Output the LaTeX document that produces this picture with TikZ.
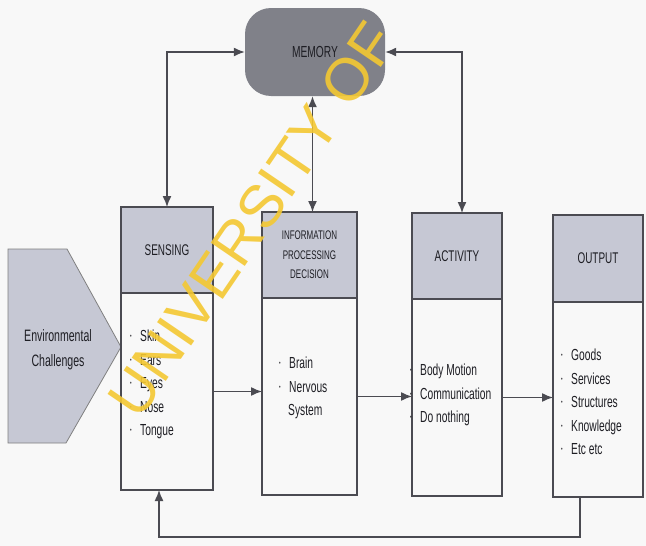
\documentclass[tikz,border=0pt]{standalone}
\usepackage{fontspec}
\setmainfont{Liberation Sans}
\newfontfamily\narrowfont[FakeStretch=0.64]{Liberation Sans}
\usepackage{xcolor}
\usetikzlibrary{arrows.meta, math, positioning}
\definecolor{headgray}{RGB}{198,200,212}
\definecolor{memgray}{RGB}{128,129,137}
\definecolor{linegray}{RGB}{75,75,82}
\definecolor{inkgray}{RGB}{30,30,36}
\definecolor{uyellow}{RGB}{244,200,50}
\definecolor{paper}{RGB}{248,248,248}

\newcommand{\bul}{\makebox[10pt][l]{\raisebox{3pt}{\fontsize{7}{7}\selectfont\textbullet}}}

\tikzset{
head/.style={draw=linegray, line width=1.1pt, fill=headgray, inner sep=0pt, outer sep=0pt,
  align=center, text=inkgray, anchor=north west, font=\narrowfont\fontsize{15.5}{20}\selectfont},
body/.style={draw=linegray, line width=1.1pt, inner sep=0pt, outer sep=0pt, anchor=north},
itemlist/.style={anchor=north west, align=left, inner sep=0pt, text=inkgray,
  font=\narrowfont\fontsize{16}{23.5}\selectfont},
link/.style={draw=linegray, line width=1.4pt, -{Latex[length=11pt,width=9pt]}},
dlink/.style={draw=linegray, line width=1.4pt, {Latex[length=11pt,width=9pt]}-{Latex[length=11pt,width=9pt]}},
}

\begin{document}
\begin{tikzpicture}[x=1pt,y=-1pt]
\tikzmath{
\hh=86;% header height
\bh=197;% body height
}
\useasboundingbox[fill=paper] (0,0) rectangle (646,546);

%memory
\node[fill=memgray, rounded corners=26pt, minimum width=140pt, minimum height=88pt,
  text=inkgray, font=\narrowfont\fontsize{16}{16}\selectfont] (mem) at (315,52) {MEMORY};

%environmental challenges
\draw[draw=gray, line width=0.8pt, fill=headgray] (8,249) -- (67,249) -- (121,347) -- (66,443) -- (8,443) -- cycle;
\node[align=center, text=inkgray, font=\narrowfont\fontsize{16.5}{25}\selectfont] (env) at (58,350) {Environmental\\Challenges};

%boxes
\node[head, minimum width=92pt, minimum height=\hh pt] (shead) at (121,207) {SENSING};
\node[body, minimum width=92pt, minimum height=\bh pt, below=0pt of shead] (sbody) {};
\node[head, minimum width=95pt, minimum height=\hh pt, font=\narrowfont\fontsize{12.5}{19.5}\selectfont] (ihead) at (262,212) {INFORMATION\\PROCESSING\\DECISION};
\node[body, minimum width=95pt, minimum height=\bh pt, below=0pt of ihead] (ibody) {};
\node[head, minimum width=90pt, minimum height=\hh pt] (ahead) at (412,213) {ACTIVITY};
\node[body, minimum width=90pt, minimum height=\bh pt, below=0pt of ahead] (abody) {};
\node[head, minimum width=90pt, minimum height=87pt] (ohead) at (553,215) {OUTPUT};
\node[body, minimum width=90pt, minimum height=195pt, below=0pt of ohead] (obody) {};

%lists
\node[itemlist] (slist) at (130,330) {\bul Skin\\\bul Ears\\\bul Eyes\\\bul Nose\\\bul Tongue};
\node[itemlist] (ilist) at (279,357) {\bul Brain\\\bul Nervous\\\hspace*{9pt}System};
\node[itemlist] (alist) at (410,364) {\bul Body Motion\\\bul Communication\\\bul Do nothing};
\node[itemlist] (olist) at (561,349) {\bul Goods\\\bul Services\\\bul Structures\\\bul Knowledge\\\bul Etc etc};

%arrows
\draw[link] (sbody.east) -- (sbody.east -| ibody.west);
\draw[link] (ibody.east) -- (ibody.east -| abody.west);
\draw[link] (abody.east) -- (abody.east -| obody.west);
\draw[dlink] (shead.north) |- (mem.west);
\draw[dlink] ([xshift=5pt]ahead.north) |- (mem.east);
\draw[dlink] ([xshift=3pt]ihead.north) -- ([xshift=3pt]ihead.north |- mem.south);
\draw[link] ([xshift=-18pt]obody.south) -- ++(0,40) -| ([xshift=-8pt]sbody.south);

%watermark
\node[rotate=55.7, text=uyellow, opacity=0.9, font=\fontsize{60}{60}\selectfont] (wmark) at (252,220) {UNIVERSITY OF};
\end{tikzpicture}
\end{document}
